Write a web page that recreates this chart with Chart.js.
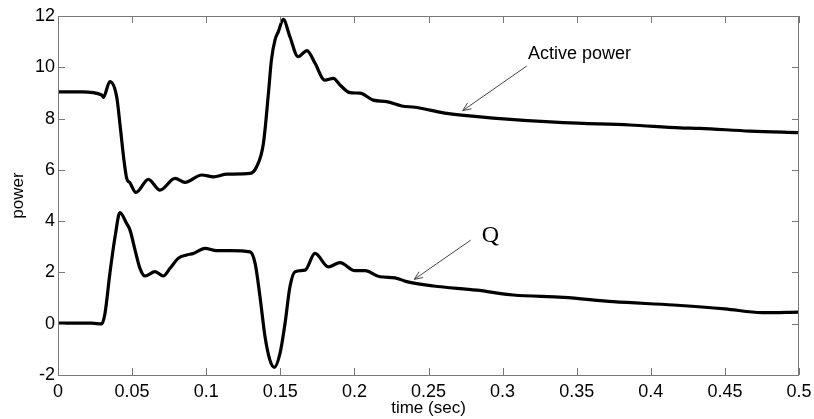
<!DOCTYPE html>
<html>
<head>
<meta charset="utf-8">
<script src="https://cdn.jsdelivr.net/npm/chart.js@4.4.1/dist/chart.umd.min.js"></script>
<style>
  html, body { margin: 0; padding: 0; background: #fff; }
  #wrap { width: 814px; height: 419px; }
</style>
</head>
<body>
<div id="wrap"><canvas id="powerCanvas" width="814" height="419"></canvas></div>
<script>
// time (sec) and values
const timeP = [0, 0.016, 0.0295, 0.0306, 0.035, 0.0396, 0.042, 0.0445, 0.0463, 0.0486, 0.0526, 0.061, 0.0688, 0.079, 0.0857, 0.097, 0.105, 0.114, 0.1296, 0.134, 0.1386, 0.142, 0.144, 0.1464, 0.1487, 0.152, 0.1565, 0.162, 0.168, 0.1734, 0.180, 0.1858, 0.1903, 0.197, 0.2038, 0.2127, 0.2218, 0.232, 0.2409, 0.251, 0.2623, 0.296, 0.341, 0.386, 0.4197, 0.433, 0.467, 0.5];
const activePower = [9.04, 9.04, 8.92, 8.83, 9.44, 8.85, 7.68, 6.38, 5.68, 5.49, 5.12, 5.63, 5.21, 5.67, 5.51, 5.80, 5.73, 5.83, 5.86, 6.12, 7.03, 8.99, 10.28, 11.06, 11.39, 11.87, 11.19, 10.41, 10.65, 10.16, 9.50, 9.57, 9.31, 9.01, 8.99, 8.72, 8.66, 8.49, 8.44, 8.33, 8.20, 8.01, 7.84, 7.75, 7.64, 7.62, 7.51, 7.45];

const timeQ = [0, 0.0227, 0.0295, 0.0317, 0.035, 0.0385, 0.0418, 0.0463, 0.0486, 0.052, 0.0553, 0.0587, 0.0655, 0.071, 0.0756, 0.0812, 0.0868, 0.0913, 0.0992, 0.107, 0.116, 0.1296, 0.133, 0.1363, 0.1397, 0.143, 0.146, 0.1498, 0.1532, 0.1565, 0.160, 0.1667, 0.1734, 0.1824, 0.1903, 0.2004, 0.2072, 0.2173, 0.2274, 0.2353, 0.2533, 0.2825, 0.3072, 0.341, 0.3747, 0.4152, 0.45, 0.475, 0.5];
const reactivePower = [0.02, 0.02, -0.01, 0.40, 1.96, 3.39, 4.33, 3.91, 3.65, 2.87, 2.16, 1.86, 2.03, 1.86, 2.16, 2.55, 2.68, 2.74, 2.94, 2.85, 2.85, 2.80, 2.35, 1.05, -0.51, -1.42, -1.70, -1.16, 0.01, 1.44, 2.03, 2.09, 2.74, 2.22, 2.38, 2.07, 2.07, 1.83, 1.79, 1.64, 1.47, 1.31, 1.12, 1.03, 0.86, 0.73, 0.58, 0.43, 0.45];

const xTickLabels = ['0', '0.05', '0.1', '0.15', '0.2', '0.25', '0.3', '0.35', '0.4', '0.45', '0.5'];
const yTickLabels = ['-2', '0', '2', '4', '6', '8', '10', '12'];

// arrow notes, in data units
const notes = [
    { text: 'Active power', font: '18px "Liberation Sans", Arial, sans-serif', at: [0.3171, 10.52], from: [0.3163, 10.05], to: [0.2731, 8.31] },
    { text: 'Q', font: '24px "Liberation Serif", "Times New Roman", serif', at: [0.2859, 3.42], from: [0.2785, 3.26], to: [0.2404, 1.73] }
];

const toPoints = (xs, ys) => xs.map((x, i) => ({ x: x, y: ys[i] }));

const boxPlugin = {
    id: 'boxPlugin',
    afterDraw(chart) {
        const ctx = chart.ctx;
        const { left, right, top, bottom } = chart.chartArea;
        const xs = chart.scales.x, ys = chart.scales.y;
        const tl = 7;
        ctx.save();
        ctx.strokeStyle = '#777';
        ctx.lineWidth = 1;
        ctx.beginPath();
        ctx.rect(left + 0.5, top + 0.5, right - left - 1, bottom - top);
        xs.ticks.forEach(t => {
            const px = Math.round(xs.getPixelForValue(t.value)) + 0.5;
            ctx.moveTo(px, bottom); ctx.lineTo(px, bottom - tl);
            ctx.moveTo(px, top); ctx.lineTo(px, top + tl);
        });
        ys.ticks.forEach(t => {
            const py = Math.round(ys.getPixelForValue(t.value)) + 0.5;
            ctx.moveTo(left, py); ctx.lineTo(left + tl, py);
            ctx.moveTo(right, py); ctx.lineTo(right - tl, py);
        });
        ctx.stroke();

        // annotations
        notes.forEach(n => {
            const fx = xs.getPixelForValue(n.from[0]), fy = ys.getPixelForValue(n.from[1]);
            const tx = xs.getPixelForValue(n.to[0]), ty = ys.getPixelForValue(n.to[1]);
            ctx.strokeStyle = '#444';
            ctx.lineWidth = 1;
            ctx.beginPath();
            ctx.moveTo(fx, fy); ctx.lineTo(tx, ty);
            const a = Math.atan2(ty - fy, tx - fx);
            const h = 9, w = 0.4;
            ctx.moveTo(tx - h * Math.cos(a - w), ty - h * Math.sin(a - w));
            ctx.lineTo(tx, ty);
            ctx.lineTo(tx - h * Math.cos(a + w), ty - h * Math.sin(a + w));
            ctx.stroke();
            ctx.fillStyle = '#000';
            ctx.font = n.font;
            ctx.textAlign = 'left';
            ctx.textBaseline = 'middle';
            ctx.fillText(n.text, xs.getPixelForValue(n.at[0]), ys.getPixelForValue(n.at[1]));
        });
        ctx.restore();
    }
};

const tickFont = { family: '"Liberation Sans", Arial, sans-serif', size: 18 };
const titleFont = { family: '"Liberation Sans", Arial, sans-serif', size: 17 };

new Chart(document.getElementById('powerCanvas'), {
    type: 'line',
    data: {
        datasets: [
            { label: 'Active power', data: toPoints(timeP, activePower), borderColor: '#000', borderWidth: 3.2, pointRadius: 0, cubicInterpolationMode: 'monotone' },
            { label: 'Q', data: toPoints(timeQ, reactivePower), borderColor: '#000', borderWidth: 3.2, pointRadius: 0, cubicInterpolationMode: 'monotone' }
        ]
    },
    options: {
        responsive: false,
        animation: false,
        layout: { padding: { top: 16, right: 15, left: 0, bottom: 0 } },
        plugins: { legend: { display: false }, tooltip: { enabled: false } },
        scales: {
            x: {
                type: 'linear', min: 0, max: 0.5,
                grid: { display: false, drawTicks: false },
                border: { display: false },
                ticks: { stepSize: 0.05, padding: 6, color: '#000', font: tickFont, maxRotation: 0, autoSkip: false,
                    callback: (v, i) => xTickLabels[i] },
                title: { display: true, text: 'time (sec)', color: '#000', font: titleFont, padding: { top: 0, bottom: 0 } },
                afterFit: s => { s.height = 44; s.paddingRight = 0; s.paddingLeft = 0; }
            },
            y: {
                min: -2, max: 12,
                grid: { display: false, drawTicks: false },
                border: { display: false },
                ticks: { stepSize: 2, padding: 3, color: '#000', font: tickFont,
                    callback: (v, i) => yTickLabels[i] },
                title: { display: true, text: 'power', color: '#000', font: titleFont, padding: { top: 8, bottom: 0 } },
                afterFit: s => { s.width = 58; s.paddingTop = 0; s.paddingBottom = 0; }
            }
        }
    },
    plugins: [boxPlugin]
});
</script>
</body>
</html>
